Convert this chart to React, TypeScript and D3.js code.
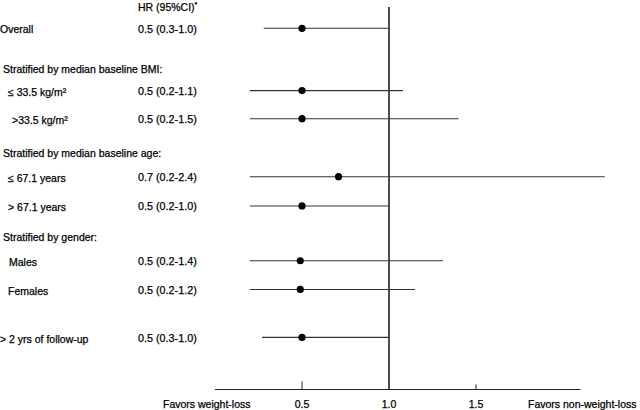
import React from 'react';
import * as d3 from 'd3';

// forest plot rows (top to bottom)
const rowLabels = [
  'Overall',
  '≤ 33.5 kg/m²',
  '>33.5 kg/m²',
  '≤ 67.1 years',
  '> 67.1 years',
  'Males',
  'Females',
  '> 2 yrs of follow-up',
];
const hrText = [
  '0.5 (0.3-1.0)',
  '0.5 (0.2-1.1)',
  '0.5 (0.2-1.5)',
  '0.7 (0.2-2.4)',
  '0.5 (0.2-1.0)',
  '0.5 (0.2-1.4)',
  '0.5 (0.2-1.2)',
  '0.5 (0.3-1.0)',
];
const estimate = [0.5, 0.5, 0.5, 0.71, 0.5, 0.49, 0.49, 0.5];
const ciLow = [0.28, 0.2, 0.2, 0.2, 0.2, 0.2, 0.2, 0.27];
const ciHigh = [1.0, 1.08, 1.4, 2.24, 1.0, 1.31, 1.15, 1.0];

const groupHeadings = [
  'Stratified by median baseline BMI:',
  'Stratified by median baseline age:',
  'Stratified by gender:',
];
const xTicks = [0.5, 1.0, 1.5];

// layout (row slot positions, in row steps)
const rowSlot = [0, 2.17, 3.15, 5.17, 6.19, 8.1, 9.1, 10.77];
const headingSlot = [1.42, 4.35, 7.3];
const labelIndent = [0, 8, 12, 8, 8, 9, 8, 0];

const W = 640;
const H = 410;
const FONT = '"Liberation Sans", Arial, Helvetica, sans-serif';

export default function App() {
  const x = d3.scaleLinear().domain([0, 1]).range([215, 389]);
  const y = d3.scaleLinear().domain([0, 1]).range([28.3, 57]);
  const axisY = 389.5;
  const hrX = 138;
  const txt = { fontSize: 10.5, fill: '#000', stroke: '#000', strokeWidth: 0.25 };

  return (
    <svg
      width={W}
      height={H}
      style={{ position: 'fixed', left: 0, top: 0, background: '#fff' }}
      fontFamily={FONT}
    >
      {/* header */}
      <text x={hrX} y={11} {...txt}>
        HR (95%CI)<tspan fontSize={7} dy={-4}>*</tspan>
      </text>

      {/* group headings */}
      {groupHeadings.map((h, i) => (
        <text key={h} x={3} y={y(headingSlot[i])} dy="0.35em" {...txt}>
          {h}
        </text>
      ))}

      {/* row labels and HR text */}
      {rowLabels.map((lab, i) => (
        <g key={lab}>
          <text x={labelIndent[i]} y={y(rowSlot[i]) + 1.5} dy="0.35em" {...txt}>
            {lab}
          </text>
          <text x={hrX} y={y(rowSlot[i]) + 0.5} dy="0.35em" {...txt} fontSize={10.8}>
            {hrText[i]}
          </text>
        </g>
      ))}

      {/* reference line at 1.0 */}
      <line x1={x(1)} x2={x(1)} y1={7} y2={axisY} stroke="#000" strokeWidth={1.4} />

      {/* confidence intervals */}
      {rowLabels.map((lab, i) => (
        <g key={'ci' + lab}>
          <line
            x1={x(ciLow[i])}
            x2={x(ciHigh[i])}
            y1={y(rowSlot[i])}
            y2={y(rowSlot[i])}
            stroke="#333"
            strokeWidth={1.1}
          />
          <circle cx={x(estimate[i])} cy={y(rowSlot[i])} r={3.6} fill="#000" />
        </g>
      ))}

      {/* x axis */}
      <line x1={x(0)} x2={x(2.1)} y1={axisY} y2={axisY} stroke="#222" strokeWidth={1} />
      {xTicks.map((t) => (
        <g key={t}>
          {t !== 1 && (
            <line x1={x(t)} x2={x(t)} y1={axisY - (t < 1 ? 8 : 5)} y2={axisY} stroke="#222" strokeWidth={1} />
          )}
          <text x={x(t)} y={404.5} dy="0.35em" textAnchor="middle" {...txt}>
            {t.toFixed(1)}
          </text>
        </g>
      ))}
      <text x={163} y={404.5} dy="0.35em" {...txt}>
        Favors weight-loss
      </text>
      <text x={528} y={404.5} dy="0.35em" {...txt}>
        Favors non-weight-loss
      </text>
    </svg>
  );
}
